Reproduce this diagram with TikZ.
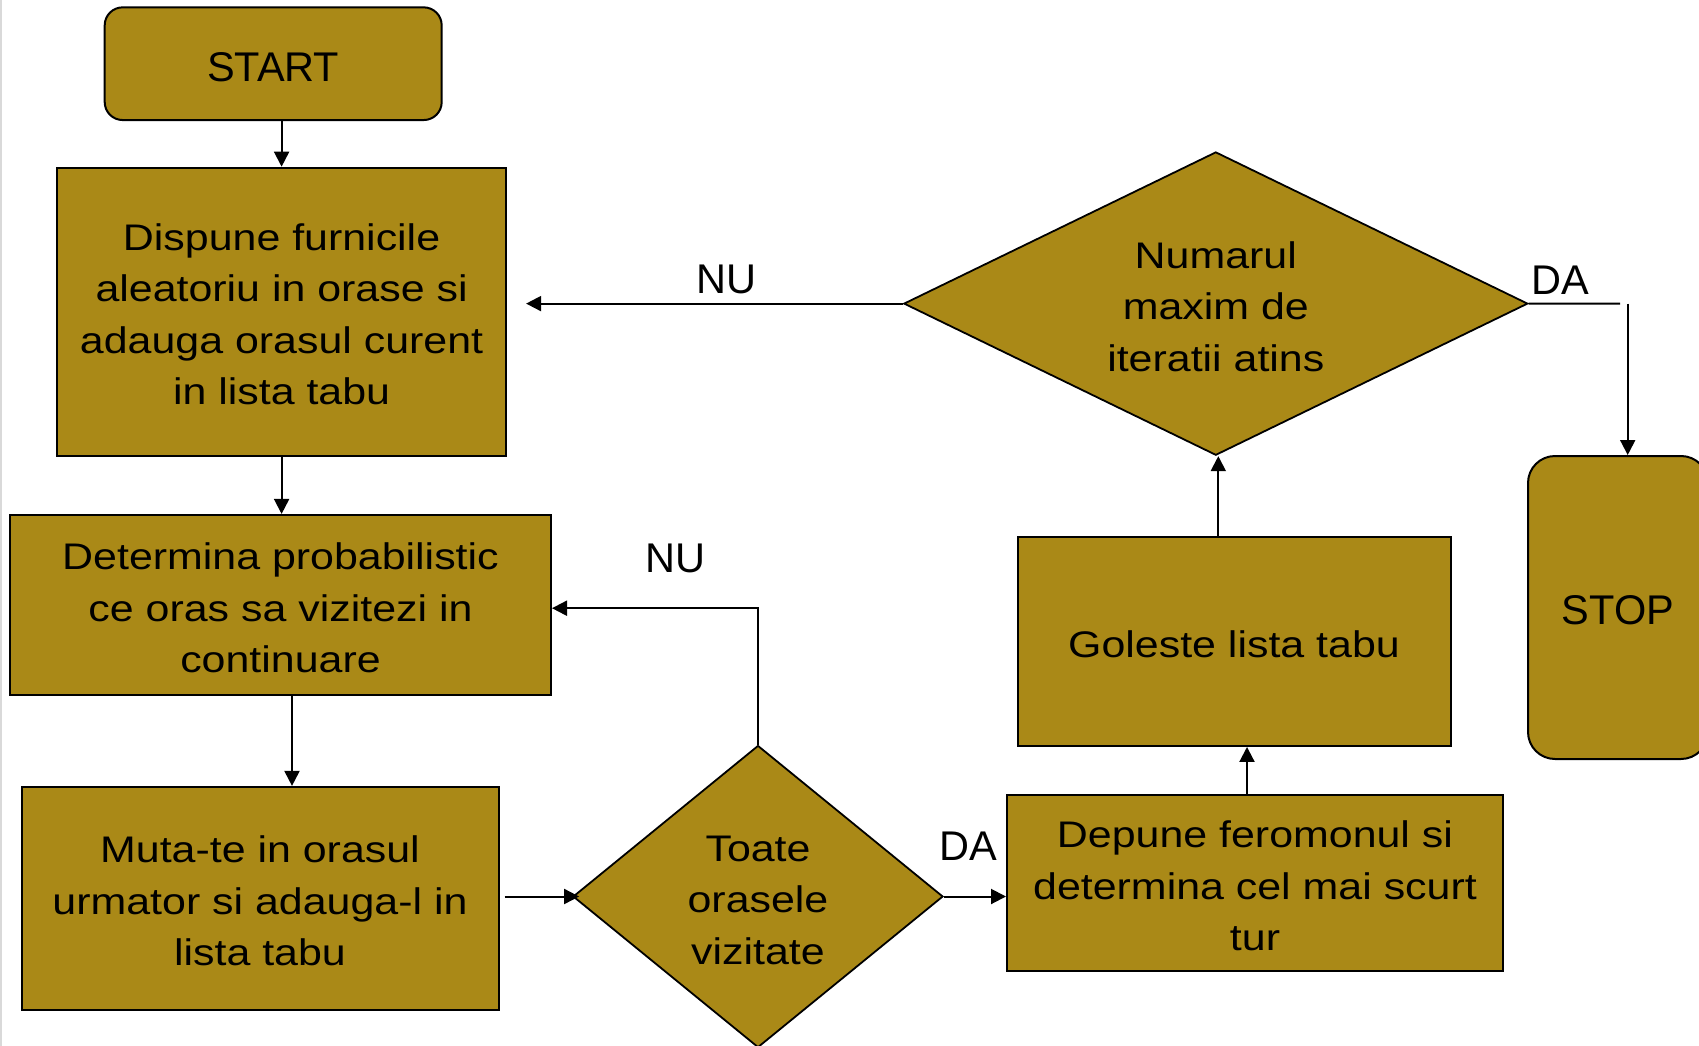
\documentclass[tikz,border=0pt]{standalone}
\usepackage{fontspec}
\setmainfont{Liberation Sans}
\newfontfamily\boxfont{Liberation Sans}[FakeStretch=1.16]
\usetikzlibrary{shapes.geometric,arrows.meta}
\definecolor{olivefill}{RGB}{170,137,23}
\newcommand{\bxup}{\rule{0pt}{32.4pt}}
\newcommand{\trup}{\rule{0pt}{35.3pt}}
\begin{document}
\begin{tikzpicture}[x=1pt,y=-1pt,
  box/.style={draw=black,line width=2pt,fill=olivefill,inner sep=0pt,align=center,
    font=\boxfont\fontsize{37}{51.5}\selectfont},
  term/.style={box,rounded corners=18pt,font=\fontsize{41.5}{50}\selectfont},
  dec/.style={box,diamond,line width=1.8pt},
  lbl/.style={font=\fontsize{41.5}{50}\selectfont,inner sep=0pt,anchor=base},
  conn/.style={line width=2pt},
  arr/.style={conn,-{Triangle[length=15pt,width=15pt]}}]
\useasboundingbox (0,0) rectangle (1699,1046);
\fill[black!15] (0,0) rectangle (1.5,1046);

\node[term, minimum width=337pt, minimum height=112.7pt] (start) at (273.2,63.7) {\trup START};
\node[box, minimum width=449pt, minimum height=288pt] (dispune) at (281.6,311.7)
  {\bxup Dispune furnicile\\aleatoriu in orase si\\adauga orasul curent\\in lista tabu};
\node[box, minimum width=541pt, minimum height=180.5pt] (determina) at (280.5,605.2)
  {\bxup Determina probabilistic\\ce oras sa vizitezi in\\continuare};
\node[box, minimum width=477pt, minimum height=223pt] (muta) at (260,898.4)
  {\bxup Muta-te in orasul\\urmator si adauga-l in\\lista tabu};
\node[dec, aspect=1.225, minimum width=370pt, minimum height=302pt] (d2) at (758,896.5)
  {\bxup Toate\\orasele\\vizitate};
\node[box, minimum width=496pt, minimum height=176pt] (depune) at (1255,883)
  {\bxup Depune feromonul si\\determina cel mai scurt\\tur};
\node[box, minimum width=433pt, minimum height=208.5pt] (goleste) at (1234,641.7)
  {\bxup Goleste lista tabu};
\node[dec, aspect=2.06, minimum width=624pt, minimum height=303.3pt] (d1) at (1215.8,303.6)
  {\bxup Numarul\\maxim de\\iteratii atins};
\node[term, rounded corners=27pt, minimum width=180pt, minimum height=303pt] (stop) at (1618,607.5) {\trup STOP};

\node[lbl] (lnu1) at (726,293) {NU};
\node[lbl] (lda1) at (1560.5,294) {DA};
\node[lbl] (lnu2) at (675,572) {NU};
\node[lbl] (lda2) at (968,860.5) {DA};

\coordinate (c1) at (1620,303.7);
\coordinate (c2) at (1627.7,303.7);

\draw[arr] (dispune.north |- start.south) -- (dispune.north);
\draw[arr] (dispune.south) -- (dispune.south |- determina.north);
\draw[arr] ([xshift=11.5pt]determina.south) -- ([xshift=11.5pt]determina.south |- muta.north);
\draw[arr] ([xshift=5pt]muta.east |- d2.west) -- ([xshift=7pt]d2.west);
\draw[arr] (d2.east) -- (d2.east -| depune.west);
\draw[arr] (d2.north) |- ([yshift=-3pt]determina.east);
\draw[arr] ([xshift=-8pt]depune.north) -- ([xshift=-8pt]depune.north |- goleste.south);
\draw[arr] ([xshift=2.5pt]d1.south |- goleste.north) -- ([xshift=2.5pt]d1.south);
\draw[arr, shorten >=19pt] (d1.west) -- (d1.west -| dispune.east);
\draw[conn] (d1.east) -- (c1);
\draw[arr] (c2) -- (c2 |- stop.north);
\end{tikzpicture}
\end{document}
